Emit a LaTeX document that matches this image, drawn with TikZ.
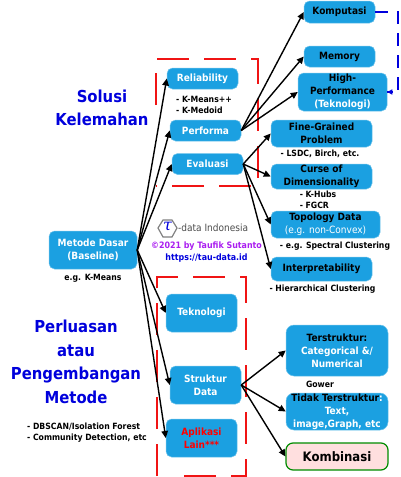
\documentclass[tikz,border=0pt]{standalone}
\usepackage{fontspec}
\setmainfont{DejaVu Sans Condensed}[BoldFont={DejaVu Sans Condensed Bold}]
\usetikzlibrary{arrows.meta}
\definecolor{bxblue}{RGB}{27,160,225}
\definecolor{bxedge}{RGB}{110,195,235}
\definecolor{dashred}{RGB}{240,20,20}
\definecolor{headblue}{RGB}{0,0,220}
\definecolor{purp}{RGB}{170,30,240}
\tikzset{
  bx/.style={fill=bxblue,draw=bxedge,line width=0.5pt,rounded corners=5.5pt,align=center,inner sep=0pt,font=\fontsize{10}{13}\selectfont\bfseries,text=white},
  kom/.style={fill=pink!50!white,draw=green!55!black,line width=1.2pt,rounded corners=7pt,align=center,inner sep=0pt,font=\fontsize{13}{15}\selectfont\bfseries,text=black},
  lnk/.style={-{Triangle[length=7pt,width=6.5pt]},line width=1.4pt,black},
  frame/.style={dashed,dash pattern=on 32pt off 15pt,dashred,line width=1.2pt},
  back/.style={headblue,line width=1.3pt},
  note/.style={font=\fontsize{8.6}{11}\selectfont\bfseries,text=black,align=left,inner sep=0pt},
  head/.style={font=\fontsize{16.5}{23.5}\selectfont\bfseries,text=headblue,align=center,inner sep=0pt}
}
\begin{document}
\begin{tikzpicture}[x=1pt,y=-1pt]
\useasboundingbox (0,0) rectangle (400,477);
% frames
\draw[frame] (156,105) |- (258,59) -- (258,186) -- (156,186);
\draw[frame] (157,476) -- (157,277) -- (246,277) -- (246,476) -- (170,476);
% boxes
\node[bx,minimum width=88pt,minimum height=38pt] (metode) at (93,250) {Metode Dasar\\(Baseline)};
\node[bx,minimum width=71pt,minimum height=21pt] (rel) at (202.5,78.5) {Reliability};
\node[bx,minimum width=71pt,minimum height=21pt] (perf) at (205.5,130.5) {Performa};
\node[bx,minimum width=71pt,minimum height=21pt] (eval) at (207.5,164) {Evaluasi};
\node[bx,minimum width=71pt,minimum height=22pt,text=black] (komp) at (339.5,12) {Komputasi};
\node[bx,minimum width=71pt,minimum height=21pt,text=black] (mem) at (339.5,56.5) {Memory};
\node[bx,minimum width=89pt,minimum height=38pt,text=black] (high) at (342.5,92) {High-\\Performance\\\textcolor{white}{(Teknologi)}};
\node[bx,minimum width=101pt,minimum height=27pt,text=black] (fine) at (321.5,133.5) {Fine-Grained\\Problem};
\node[bx,minimum width=101pt,minimum height=25pt,text=black] (curse) at (321.5,176.5) {Curse of\\Dimensionality};
\node[bx,minimum width=109pt,minimum height=27pt,text=black] (topo) at (325.5,224.5) {Topology Data\\\textcolor{white}{\mdseries (e.g. non-Convex)}};
\node[bx,minimum width=101pt,minimum height=24pt,text=black] (interp) at (321.5,269) {Interpretability};
\node[bx,minimum width=71pt,minimum height=38pt] (tek) at (201.5,313) {Teknologi};
\node[bx,minimum width=71pt,minimum height=38pt] (struk) at (205.5,385) {Struktur\\Data};
\node[bx,minimum width=71pt,minimum height=38pt,text=red] (apl) at (201.5,438) {Aplikasi\\Lain***};
\node[bx,minimum width=102pt,minimum height=51pt,rounded corners=8pt] (ters) at (337,350.5) {\textcolor{black}{Terstruktur:}\\Categorical \&/\\Numerical};
\node[bx,minimum width=102pt,minimum height=37pt,rounded corners=8pt] (tidak) at (337,411.5) {\textcolor{black}{Tidak Terstruktur}:\\Text,\\image,Graph, etc};
\node[kom,minimum width=102pt,minimum height=27pt] (kombi) at (337,456.5) {Kombinasi};
% connectors
\foreach \t in {rel,perf,eval,tek,struk,apl} \draw[lnk] (metode.east) -- (\t.west);
\foreach \t in {komp,mem,high} \draw[lnk] (perf.east) -- (\t.west);
\foreach \t in {fine,curse,topo,interp} \draw[lnk] (eval.east) -- (\t.west);
\foreach \t in {ters,tidak,kombi} \draw[lnk] (struk.east) -- (\t.west);
\coordinate (bk1) at (398,12);
\coordinate (bk2) at (398,92);
\draw[back,dashed,dash pattern=on 13pt off 9pt] (komp.east) -- (bk1) -- (bk2) -- (high.east);
\draw[back,-{Triangle[length=5pt,width=5pt]}] (392,92) -- (high.east);
% headings
\node[head] (h1) at (102,108) {Solusi\\Kelemahan};
\node[head] (h2) at (76,362) {Perluasan\\atau\\Pengembangan\\Metode};
% notes
\node[note] (n1) at (204,105) {- K-Means++\\- K-Medoid};
\node[note] (n2) at (320,154) {- LSDC, Birch, etc.};
\node[note] (n3) at (318,200) {- K-Hubs\\- FGCR};
\node[note] (n4) at (335,246) {- e.g. Spectral Clustering};
\node[note] (n5) at (322.5,289) {- Hierarchical Clustering};
\node[note] (n6) at (93,278) {e.g. K-Means};
\node[note] (n7) at (320,384) {Gower};
\node[note] (n8) at (87,433) {- DBSCAN/Isolation Forest\\- Community Detection, etc};
% logo
\draw[gray,line width=1.2pt,fill=white] (158,228) -- (163,220) -- (172,220) -- (177,228) -- (172,237) -- (163,237) -- cycle;
\node[inner sep=0pt,font=\fontsize{16}{16}\selectfont,text=headblue] (tau) at (167.5,227) {\fontspec{DejaVu Serif}[Ligatures=TeX]\itshape τ};
\node[inner sep=0pt,anchor=west,font=\fontsize{10}{11}\selectfont,text=black!70] (ld) at (178,228) {-data Indonesia};
\node[inner sep=0pt,font=\fontsize{8.8}{10}\selectfont\bfseries,text=purp] (cp) at (206.5,246) {©2021 by Taufik Sutanto};
\node[inner sep=0pt,font=\fontsize{8.8}{10}\selectfont\bfseries,text=headblue] (url) at (206.5,258) {https://tau-data.id};
\end{tikzpicture}
\end{document}
